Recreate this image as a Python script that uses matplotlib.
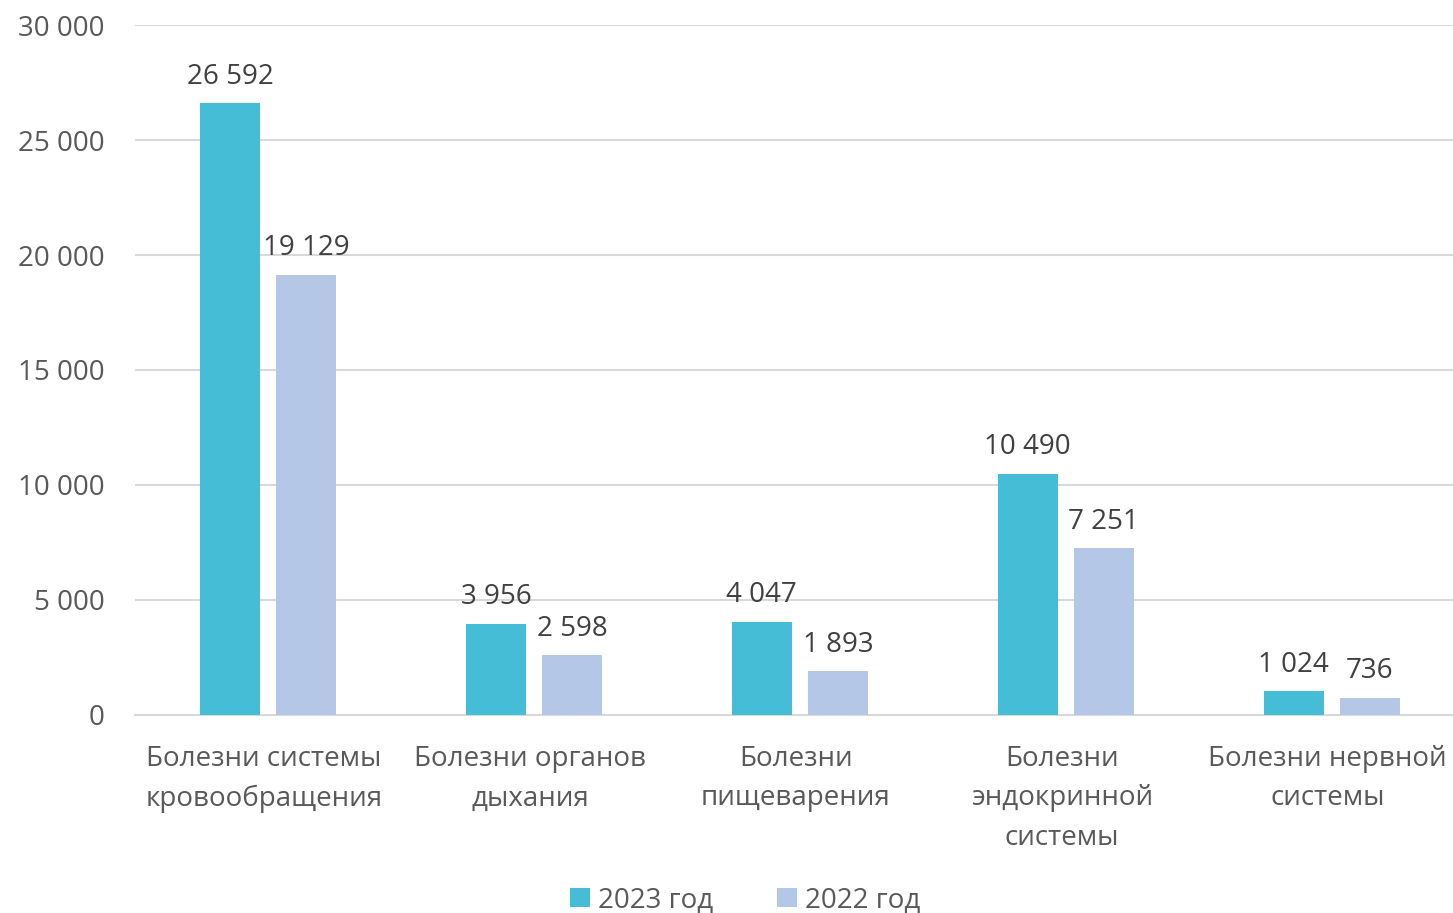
import matplotlib
matplotlib.use("Agg")
import matplotlib.pyplot as plt
import numpy as np

plt.rcParams['font.family'] = ['Open Sans', 'DejaVu Sans']

categories = ['Болезни системы\nкровообращения', 'Болезни органов\nдыхания',
              'Болезни\nпищеварения', 'Болезни\nэндокринной\nсистемы',
              'Болезни нервной\nсистемы']
vals_2023 = [26592, 3956, 4047, 10490, 1024]
vals_2022 = [19129, 2598, 1893, 7251, 736]
labels_2023 = ['26 592', '3 956', '4 047', '10 490', '1 024']
labels_2022 = ['19 129', '2 598', '1 893', '7 251', '736']
yticks = [0, 5000, 10000, 15000, 20000, 25000, 30000]
ytick_labels = ['0', '5 000', '10 000', '15 000', '20 000', '25 000', '30 000']

c23 = '#46BDD6'
c22 = '#B4C7E7'
txt = '#404040'
lab = '#595959'

fig = plt.figure(figsize=(14.53, 9.13), dpi=100)
ax = fig.add_axes([0.0929, 0.2169, 0.9152, 0.7557])

x = np.arange(len(categories))
w = 0.226
b1 = ax.bar(x - 0.143, vals_2023, w, color=c23, label='2023 год', zorder=3)
b2 = ax.bar(x + 0.143, vals_2022, w, color=c22, label='2022 год', zorder=3)

for rect, s in zip(b1, labels_2023):
    ax.text(rect.get_x() + rect.get_width() / 2, rect.get_height() + 550, s,
            ha='center', va='bottom', fontsize=20, color=txt)
for rect, s in zip(b2, labels_2022):
    ax.text(rect.get_x() + rect.get_width() / 2, rect.get_height() + 550, s,
            ha='center', va='bottom', fontsize=20, color=txt)

ax.set_xlim(-0.5, 4.5)
ax.set_ylim(0, 30000)
ax.set_yticks(yticks)
ax.set_yticklabels(ytick_labels, fontsize=20, color=lab)
ax.set_xticks(x - 0.015)
ax.set_xticklabels(categories, fontsize=20, color=lab, linespacing=1.55, va='top')
ax.tick_params(axis='both', length=0)
ax.tick_params(axis='x', pad=21.5)
ax.tick_params(axis='y', pad=22)
ax.grid(axis='y', color='#D9D9D9', lw=1.5, zorder=0)
for sp in ['top', 'right', 'left']:
    ax.spines[sp].set_visible(False)
ax.spines['bottom'].set_color('#D9D9D9')
ax.spines['bottom'].set_linewidth(1.5)

fig.legend(loc='lower center', bbox_to_anchor=(0.513, -0.029), ncol=2, frameon=False,
           fontsize=20, handlelength=0.7, handleheight=0.7, handletextpad=0.3,
           columnspacing=2.3, labelcolor=lab)

fig.savefig('out.png', dpi=100)
